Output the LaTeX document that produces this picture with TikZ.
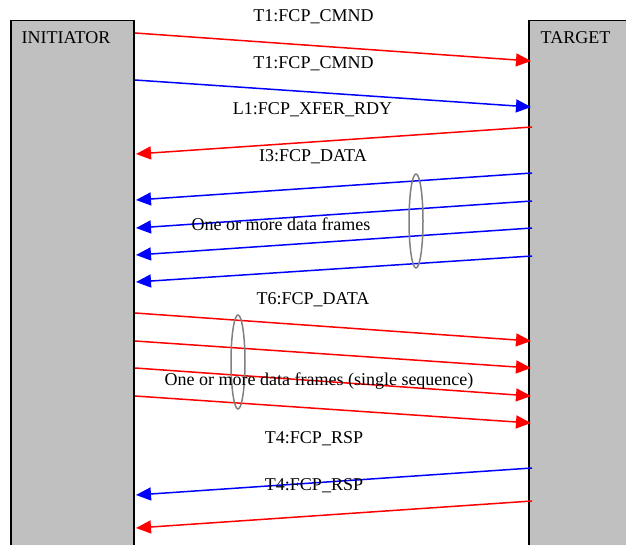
\documentclass[tikz,border=0pt]{standalone}
\usepackage{fontspec}
\setmainfont{Liberation Serif}
\usetikzlibrary{arrows.meta,shapes.geometric}
\definecolor{boxgray}{RGB}{192,192,192}
\definecolor{ringgray}{RGB}{128,128,128}
\begin{document}
\begin{tikzpicture}[x=1pt,y=-1pt,
  lbl/.style={anchor=base, font=\fontsize{18}{20}\selectfont, inner sep=0pt},
  party/.style={draw=black, fill=boxgray, line width=1.5pt, anchor=north west, inner sep=0pt},
  msg/.style={line width=1.5pt, -{Triangle[length=15pt,width=13pt]}},
  ring/.style={draw=ringgray, line width=1.5pt, ellipse, inner sep=0pt, minimum width=14pt, minimum height=94pt}
]
\useasboundingbox (0,0) rectangle (626,545);
\clip (0,0) rectangle (626,545);
% parties
\node[party, minimum width=123pt, minimum height=560pt] (initiator) at (10,20) {};
\node[party, minimum width=130pt, minimum height=560pt] (target) at (528,20) {};
\node[lbl, anchor=base west] (initlbl) at (21.5,43.3) {INITIATOR};
\node[lbl] (targlbl) at (575.5,43.3) {TARGET};
% endpoints
\coordinate (a1) at (135,33);  \coordinate (b1) at (531,61);
\coordinate (a2) at (135,80);  \coordinate (b2) at (531,107);
\coordinate (a3) at (532,127); \coordinate (b3) at (136,154);
\coordinate (a4) at (532,173); \coordinate (b4) at (136,200);
\coordinate (a5) at (532,201); \coordinate (b5) at (136,228);
\coordinate (a6) at (532,228); \coordinate (b6) at (136,255);
\coordinate (a7) at (532,256); \coordinate (b7) at (136,282);
\coordinate (a8) at (135,313); \coordinate (b8) at (531,341);
\coordinate (a9) at (135,341); \coordinate (b9) at (531,368);
\coordinate (a10) at (135,368); \coordinate (b10) at (531,396);
\coordinate (a11) at (135,396); \coordinate (b11) at (531,423);
\coordinate (a12) at (532,468); \coordinate (b12) at (136,495);
\coordinate (a13) at (532,501); \coordinate (b13) at (136,528);
% messages
\draw[msg, red]  (a1) -- (b1);
\draw[msg, blue] (a2) -- (b2);
\draw[msg, red]  (a3) -- (b3);
\draw[msg, blue] (a4) -- (b4);
\draw[msg, blue] (a5) -- (b5);
\draw[msg, blue] (a6) -- (b6);
\draw[msg, blue] (a7) -- (b7);
\draw[msg, red]  (a8) -- (b8);
\draw[msg, red]  (a9) -- (b9);
\draw[msg, red]  (a10) -- (b10);
\draw[msg, red]  (a11) -- (b11);
\draw[msg, blue] (a12) -- (b12);
\draw[msg, red]  (a13) -- (b13);
% groups
\node[ring] (g1) at (416,221) {};
\node[ring] (g2) at (238,362) {};
% labels
\node[lbl] (l1) at (313.5,21.5) {T1:FCP\_CMND};
\node[lbl] (l2) at (313.5,68.3) {T1:FCP\_CMND};
\node[lbl] (l3) at (312.5,115) {L1:FCP\_XFER\_RDY};
\node[lbl] (l4) at (313,162) {I3:FCP\_DATA};
\node[lbl] (l5) at (281,231) {One or more data frames};
\node[lbl] (l6) at (313,304) {T6:FCP\_DATA};
\node[lbl] (l7) at (319,385) {One or more data frames (single sequence)};
\node[lbl] (l8) at (314,443) {T4:FCP\_RSP};
\node[lbl] (l9) at (314,490) {T4:FCP\_RSP};
\end{tikzpicture}
\end{document}
